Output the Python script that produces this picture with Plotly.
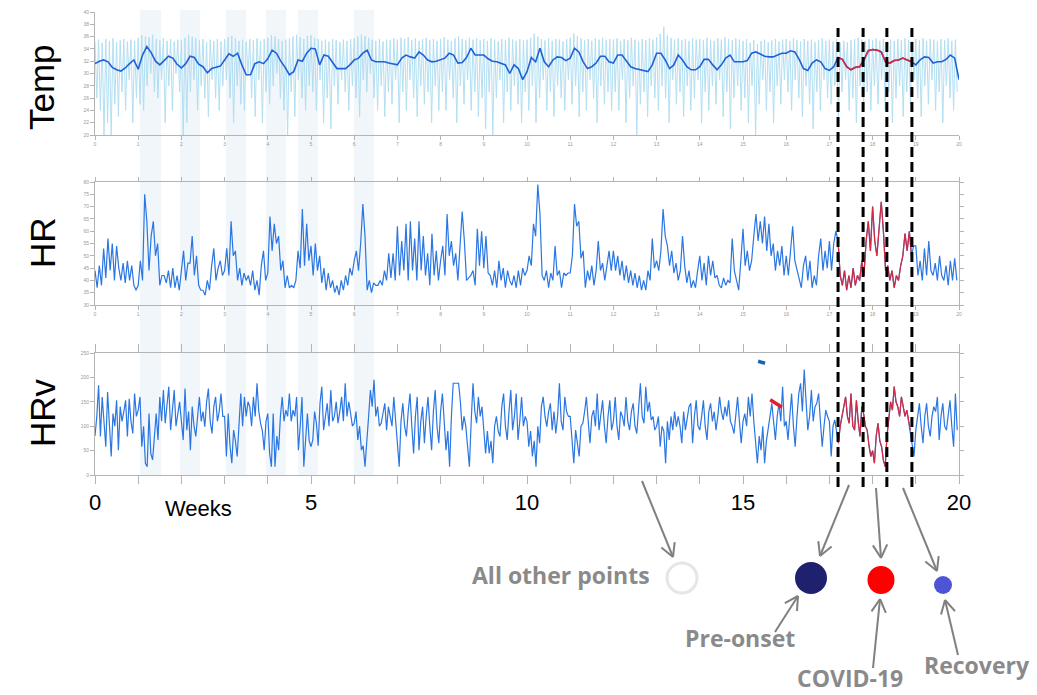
import math
import numpy as np
import plotly.graph_objects as go

# ---------------- data (weeks on x) ----------------
# skin temperature, raw signal: 12 daily-ish peaks and dips per week
temp_raw_high = [
    35.2, 35.5, 35.0, 35.6, 35.3, 35.7, 35.1, 35.4, 35.6, 35.2, 35.5, 35.3,
    35.8, 36.2, 36.0, 35.9, 36.3, 35.6, 35.4, 35.7, 35.3, 35.6, 35.2, 35.5,
    35.4, 35.8, 36.3, 36.0, 35.7, 35.4, 35.6, 35.1, 35.5, 35.3, 35.6, 35.2,
    35.6, 35.9, 36.1, 35.7, 35.3, 35.5, 35.2, 35.6, 35.4, 35.7, 35.3, 35.6,
    35.8, 36.2, 36.0, 35.6, 35.3, 35.5, 35.7, 36.0, 36.3, 35.9, 35.6, 36.1,
    36.2, 35.8, 35.6, 35.3, 35.5, 35.2, 35.6, 35.4, 35.1, 35.5, 35.3, 35.6,
    35.7, 36.0, 36.3, 36.1, 35.8, 35.5, 35.3, 35.6, 35.2, 35.5, 35.4, 35.7,
    35.5, 35.8, 35.6, 35.9, 35.4, 35.7, 35.3, 35.6, 35.8, 35.4, 35.6, 35.3,
    35.6, 35.9, 35.5, 35.3, 35.7, 36.0, 35.6, 35.4, 35.8, 35.5, 35.7, 35.4,
    35.6, 35.3, 35.7, 35.5, 35.2, 35.6, 35.4, 35.8, 35.5, 35.3, 35.6, 35.4,
    35.5, 35.8, 36.5, 36.0, 35.6, 35.4, 35.7, 35.3, 35.6, 35.5, 35.2, 35.6,
    35.8, 36.5, 36.1, 35.7, 35.4, 35.6, 35.3, 35.7, 35.5, 35.8, 35.4, 35.6,
    35.5, 35.7, 35.3, 35.6, 35.4, 35.8, 35.5, 35.2, 35.6, 35.4, 35.7, 35.5,
    35.9, 36.4, 37.6, 36.2, 35.8, 35.5, 35.7, 35.4, 35.6, 35.3, 35.7, 35.5,
    35.6, 35.4, 35.8, 35.5, 35.3, 35.7, 35.5, 35.9, 35.6, 35.4, 35.7, 35.5,
    35.3, 35.6, 35.0, 35.4, 34.8, 35.3, 35.5, 35.1, 35.4, 35.6, 35.2, 35.5,
    35.6, 35.3, 35.7, 35.4, 35.2, 35.6, 35.3, 35.5, 35.1, 35.4, 35.7, 35.3,
    35.5, 35.2, 35.6, 35.0, 35.3, 35.1, 35.4, 35.6, 35.8, 35.5, 35.3, 35.6,
    35.4, 35.7, 35.3, 35.6, 35.2, 35.5, 35.3, 35.6, 35.4, 35.7, 35.5, 35.3,
    35.6, 35.4, 35.7, 35.3, 35.6, 35.5, 35.2, 35.6, 35.4, 35.7, 35.3, 35.5,
]
temp_raw_low = [
    26, 24, 20, 22, 20, 25, 23, 27, 24, 29, 22, 26,
    25, 24, 28, 30, 27, 26, 29, 22, 28, 24, 30, 27,
    20, 22, 27, 29, 24, 28, 26, 23, 29, 26, 24, 28,
    29, 26, 22, 28, 25, 24, 30, 26, 23, 29, 22, 27,
    25, 28, 30, 26, 24, 20, 27, 23, 29, 26, 24, 28,
    27, 24, 29, 22, 26, 21, 28, 25, 29, 27, 24, 28,
    26, 23, 29, 27, 30, 26, 24, 28, 23, 27, 25, 29,
    22, 27, 24, 29, 26, 23, 28, 25, 27, 22, 28, 24,
    27, 24, 29, 26, 22, 28, 25, 29, 24, 27, 23, 26,
    21, 27, 20, 26, 29, 22, 27, 24, 28, 25, 22, 27,
    24, 28, 22, 26, 29, 24, 27, 23, 28, 26, 24, 29,
    25, 28, 23, 27, 24, 29, 26, 22, 28, 25, 27, 24,
    27, 24, 29, 22, 26, 28, 20, 25, 27, 23, 28, 26,
    24, 28, 26, 22, 29, 25, 27, 23, 28, 24, 26, 29,
    22, 27, 24, 28, 25, 29, 23, 27, 21, 26, 28, 24,
    26, 22, 28, 20, 25, 29, 24, 27, 22, 28, 25, 29,
    27, 24, 29, 26, 23, 28, 25, 21, 27, 24, 29, 26,
    25, 28, 23, 27, 29, 24, 26, 22, 28, 25, 27, 24,
    28, 25, 29, 24, 27, 22, 26, 28, 23, 27, 25, 29,
    26, 23, 28, 25, 29, 24, 27, 22, 28, 26, 24, 27,
]

# skin temperature, smoothed (every 0.1 week)
temp_smooth = [
    31.6, 32.0, 32.2, 31.9, 31.0, 30.6, 30.4, 30.9, 31.6, 32.2, 30.7,
    33.0, 34.4, 33.4, 32.0, 31.4, 32.1, 32.8, 32.5, 31.5, 30.9,
    31.6, 32.8, 32.6, 31.5, 31.1, 30.1, 30.8, 31.0, 31.2, 32.2,
    33.2, 32.8, 33.3, 31.4, 29.8, 29.8, 31.6, 31.9, 31.6, 32.4,
    33.8, 33.3, 32.0, 31.0, 29.8, 30.3, 32.2, 32.0, 33.3, 34.1,
    34.0, 31.4, 33.0, 32.8, 31.7, 30.8, 30.8, 30.8, 31.4, 32.2,
    32.5, 33.3, 33.8, 32.2, 31.9, 31.9, 31.9, 31.7, 31.5, 31.4,
    32.5, 33.0, 32.7, 32.5, 33.5, 33.0, 32.2, 31.9, 32.0, 32.2,
    32.5, 33.3, 33.0, 31.7, 31.8, 32.6, 34.1, 33.0, 33.0, 33.0,
    32.4, 32.0, 31.9, 31.6, 31.4, 30.0, 31.4, 30.8, 29.0, 30.3,
    32.6, 31.9, 34.1, 31.9, 31.1, 32.2, 32.7, 32.6, 32.1, 32.5,
    34.1, 33.5, 31.9, 30.8, 31.1, 31.7, 32.8, 32.8, 31.9, 31.7,
    33.0, 33.0, 32.1, 31.1, 30.8, 30.6, 30.5, 30.3, 31.4, 33.3,
    33.3, 32.2, 30.8, 31.4, 33.0, 32.2, 31.1, 30.6, 30.6, 31.1,
    32.3, 32.3, 31.4, 30.6, 31.4, 32.5, 33.0, 31.9, 31.9, 31.9,
    32.1, 33.3, 33.5, 33.2, 32.8, 32.7, 32.7, 33.0, 33.3, 33.3,
    33.7, 33.5, 32.3, 30.8, 30.5, 31.7, 32.2, 31.9, 30.8, 30.5,
    31.1, 32.6, 32.3, 31.1, 30.6, 31.0, 31.1, 32.2, 33.7, 33.9,
    33.8, 33.5, 31.9, 31.7, 32.1, 32.2, 32.5, 32.2, 31.9, 31.4,
    32.2, 32.7, 32.6, 31.7, 31.9, 31.9, 32.3, 33.0, 32.5, 29.0,
]

# heart rate (every 0.05 week)
hr = [
    44, 37, 46, 38, 53, 41, 57, 44, 55, 40, 54, 45, 40, 47, 39, 48, 40, 46, 38, 36,
    38, 48, 40, 75, 64, 44, 58, 64, 50, 55, 38, 42, 42, 39, 44, 37, 45, 37, 42, 36,
    44, 52, 40, 47, 47, 58, 42, 50, 38, 36, 36, 34, 40, 36, 46, 53, 40, 45, 48, 42,
    44, 53, 42, 64, 50, 52, 40, 45, 38, 43, 40, 42, 38, 44, 36, 40, 34, 46, 52, 40,
    43, 66, 52, 63, 55, 58, 44, 48, 37, 42, 37, 38, 37, 40, 52, 45, 69, 46, 63, 48,
    54, 42, 55, 44, 50, 39, 45, 36, 43, 37, 40, 35, 38, 34, 40, 36, 42, 38, 45, 42,
    48, 52, 44, 55, 71, 58, 36, 40, 35, 39, 38, 38, 40, 38, 44, 40, 51, 41, 51, 40,
    62, 42, 56, 44, 63, 40, 64, 44, 57, 40, 64, 44, 58, 42, 51, 38, 59, 42, 52, 40,
    48, 54, 42, 67, 50, 56, 46, 51, 40, 56, 68, 56, 40, 41, 42, 44, 38, 61, 46, 60,
    45, 58, 43, 42, 38, 44, 37, 48, 40, 45, 37, 44, 40, 38, 42, 37, 44, 38, 45, 42,
    44, 50, 46, 63, 58, 79, 67, 42, 40, 44, 37, 43, 40, 54, 42, 44, 37, 43, 42, 43,
    43, 50, 71, 62, 64, 49, 52, 37, 44, 40, 46, 38, 44, 56, 44, 47, 40, 46, 52, 44,
    52, 44, 50, 42, 48, 40, 46, 39, 44, 38, 43, 37, 42, 36, 40, 36, 44, 40, 57, 45,
    48, 44, 52, 69, 58, 54, 46, 52, 43, 47, 40, 44, 58, 46, 39, 44, 37, 40, 37, 44,
    50, 40, 47, 38, 50, 42, 48, 41, 42, 38, 37, 41, 38, 40, 39, 57, 44, 40, 36, 48,
    61, 46, 52, 44, 48, 58, 67, 56, 64, 55, 66, 52, 63, 50, 55, 44, 52, 46, 54, 42,
    50, 42, 52, 62, 48, 44, 40, 37, 46, 50, 40, 48, 37, 42, 38, 50, 57, 44, 52, 45,
    56, 44, 55, 60, 56, 42, 38, 44, 36, 42, 37, 45, 38, 42, 40, 48, 42, 56, 64, 52,
    70, 56, 50, 60, 72, 60, 44, 46, 40, 44, 37, 42, 40, 46, 50, 59, 52, 60, 50, 54,
    54, 42, 48, 40, 53, 42, 56, 44, 42, 47, 40, 50, 42, 40, 46, 38, 48, 40, 49, 40,
]

# heart-rate variability (every 1/24 week)
hrv = [
    80, 120, 184, 79, 160, 100, 58, 170, 90, 38, 126, 100, 153, 51, 140, 110, 130, 153, 79, 156, 110, 85, 167, 120,
    133, 160, 58, 100, 24, 17, 126, 44, 31, 80, 126, 72, 160, 110, 174, 106, 150, 181, 92, 140, 174, 100, 126, 150,
    110, 72, 177, 92, 130, 51, 140, 100, 79, 130, 160, 110, 130, 99, 150, 177, 110, 85, 140, 160, 110, 130, 167, 120,
    120, 38, 126, 60, 24, 92, 70, 38, 110, 167, 100, 160, 120, 150, 140, 100, 160, 120, 188, 130, 106, 90, 51, 110,
    126, 44, 17, 126, 17, 80, 51, 120, 160, 110, 133, 120, 167, 110, 133, 120, 160, 51, 100, 160, 17, 80, 126, 70,
    58, 72, 130, 106, 60, 147, 181, 92, 120, 147, 100, 174, 110, 120, 150, 106, 130, 160, 110, 188, 120, 150, 126, 100,
    106, 130, 72, 100, 51, 60, 17, 79, 120, 174, 140, 195, 120, 140, 100, 106, 130, 147, 92, 140, 120, 100, 160, 110,
    79, 17, 110, 147, 100, 79, 130, 167, 100, 44, 120, 160, 51, 110, 140, 65, 120, 160, 100, 51, 130, 174, 100, 65,
    130, 167, 110, 51, 90, 17, 120, 188, 188, 188, 188, 150, 92, 120, 100, 58, 17, 110, 188, 130, 106, 160, 120, 140,
    100, 44, 90, 44, 70, 24, 100, 120, 90, 79, 140, 167, 100, 72, 130, 174, 92, 120, 167, 72, 110, 160, 100, 120,
    110, 58, 90, 38, 70, 17, 100, 65, 140, 160, 120, 99, 130, 147, 92, 130, 85, 120, 188, 110, 92, 160, 130, 120,
    120, 80, 24, 92, 60, 38, 100, 106, 130, 160, 110, 65, 120, 133, 100, 167, 92, 120, 153, 100, 65, 120, 153, 92,
    110, 160, 100, 72, 130, 120, 100, 160, 110, 92, 130, 147, 100, 85, 150, 188, 120, 106, 181, 130, 150, 113, 120, 92,
    100, 120, 58, 100, 90, 24, 110, 72, 120, 92, 130, 99, 120, 100, 65, 130, 92, 120, 140, 147, 65, 120, 153, 100,
    92, 120, 153, 100, 72, 130, 147, 110, 130, 92, 120, 160, 130, 113, 140, 120, 153, 110, 100, 85, 130, 160, 110, 65,
    110, 126, 100, 160, 120, 167, 110, 58, 24, 80, 51, 100, 24, 70, 92, 120, 147, 100, 72, 120, 147, 110, 181, 100,
    110, 72, 130, 167, 100, 58, 120, 167, 188, 130, 216, 140, 92, 120, 174, 110, 140, 147, 167, 110, 58, 100, 133, 120,
    110, 38, 100, 113, 90, 65, 100, 120, 140, 160, 120, 106, 167, 100, 92, 153, 110, 79, 140, 126, 100, 92, 60, 38,
    50, 24, 80, 106, 70, 58, 30, 17, 80, 120, 150, 133, 181, 150, 140, 120, 160, 140, 120, 133, 110, 92, 70, 38,
    92, 120, 147, 100, 65, 120, 147, 100, 79, 120, 140, 130, 160, 72, 120, 147, 100, 92, 130, 153, 100, 58, 167, 92,
]

# two short marker strokes inside the HRv panel (week, value)
hrv_mark_blue_wk = [15.35, 15.51]
hrv_mark_blue_val = [233, 229]
hrv_mark_red_wk = [15.63, 15.90]
hrv_mark_red_val = [154, 139]

# phase boundaries (weeks): pre-onset | COVID-19 | recovery
phase_weeks = [17.2, 17.78, 18.33, 18.91]
# lightly shaded periods (weeks)
shaded_weeks = [(1.04, 1.53), (1.97, 2.43), (3.03, 3.50), (3.96, 4.42), (4.70, 5.16), (5.99, 6.46)]

# ---------------- time bases ----------------
raw_t = np.arange(2 * len(temp_raw_high)) / 24.0
raw_v = np.empty(2 * len(temp_raw_high))
raw_v[0::2] = temp_raw_high
raw_v[1::2] = temp_raw_low
smooth_t = np.arange(len(temp_smooth)) / 10.0
hr_t = np.arange(len(hr)) / 20.0
hrv_t = np.arange(len(hrv)) / 24.0


def phase_slice(t, v):
    t = np.asarray(t)
    v = np.asarray(v, dtype=float)
    m = (t >= phase_weeks[0] - 1e-9) & (t <= phase_weeks[-1] + 1e-9)
    return t[m], v[m]


W, H = 1037, 695


def px(x):
    return x / W


def py(y):
    return 1 - y / H


BLUE = "#2a76e2"
RED = "#d8283c"
AXC = "#b4b4b4"
tiny = dict(size=5, color="#9a9a9a", family="Liberation Sans")

fig = go.Figure()

# Temp panel
fig.add_trace(go.Scatter(x=raw_t, y=raw_v, mode="lines", xaxis="x", yaxis="y",
                         line=dict(color="#a6daf1", width=1), opacity=0.85))
fig.add_trace(go.Scatter(x=smooth_t, y=temp_smooth, mode="lines", xaxis="x", yaxis="y",
                         line=dict(color="#1f62d8", width=1.6)))
tx, tv = phase_slice(smooth_t, temp_smooth)
fig.add_trace(go.Scatter(x=tx, y=tv, mode="lines", xaxis="x", yaxis="y",
                         line=dict(color=RED, width=1.6)))

# HR panel
fig.add_trace(go.Scatter(x=hr_t, y=hr, mode="lines", xaxis="x2", yaxis="y2",
                         line=dict(color=BLUE, width=1.2)))
tx, tv = phase_slice(hr_t, hr)
fig.add_trace(go.Scatter(x=tx, y=tv, mode="lines", xaxis="x2", yaxis="y2",
                         line=dict(color=RED, width=1.2)))

# HRv panel
fig.add_trace(go.Scatter(x=hrv_t, y=hrv, mode="lines", xaxis="x3", yaxis="y3",
                         line=dict(color=BLUE, width=1.2)))
tx, tv = phase_slice(hrv_t, hrv)
fig.add_trace(go.Scatter(x=tx, y=tv, mode="lines", xaxis="x3", yaxis="y3",
                         line=dict(color=RED, width=1.2)))
fig.add_trace(go.Scatter(x=hrv_mark_blue_wk, y=hrv_mark_blue_val, mode="lines", xaxis="x3", yaxis="y3",
                         line=dict(color="#1763b8", width=3.5)))
fig.add_trace(go.Scatter(x=hrv_mark_red_wk, y=hrv_mark_red_val, mode="lines", xaxis="x3", yaxis="y3",
                         line=dict(color="#e0202c", width=3.5)))

week_ticks = list(range(21))
xdom = [px(95), px(959)]


def xaxis_common(anchor, mirror=False, **kw):
    d = dict(domain=xdom, range=[0, 20], anchor=anchor, tickmode="array", tickvals=week_ticks,
             ticks="outside", ticklen=4, tickcolor=AXC, showline=True, linecolor=AXC, linewidth=1,
             showgrid=False, zeroline=False, tickfont=tiny, mirror=mirror, automargin=False)
    d.update(kw)
    return d


def yaxis_common(anchor, dom, rng, dtick, mirror=False):
    return dict(domain=dom, range=rng, anchor=anchor, dtick=dtick, ticks="outside", ticklen=4,
                tickcolor=AXC, showline=True, linecolor=AXC, linewidth=1, showgrid=False,
                zeroline=False, tickfont=tiny, mirror=mirror, automargin=False)


big_text = [str(w) if w % 5 == 0 else "" for w in week_ticks]

shapes = []
for a, b in shaded_weeks:
    shapes.append(dict(type="rect", xref="x", yref="paper", x0=a, x1=b, y0=py(475), y1=py(10),
                       fillcolor="rgba(205,222,242,0.28)", line=dict(width=0), layer="below"))
for w in phase_weeks:
    shapes.append(dict(type="line", xref="x", yref="paper", x0=w, x1=w, y0=py(487), y1=py(28),
                       line=dict(color="black", width=3, dash="10px,5px"), layer="above"))

# arrows (pixel space): start -> tip, drawn with an open V head
ARC = "#808080"


def arrow(x0, y0, x1, y1, head=15, spread=0.5):
    shapes.append(dict(type="line", xref="paper", yref="paper", x0=px(x0), y0=py(y0),
                       x1=px(x1), y1=py(y1), line=dict(color=ARC, width=2)))
    ang = math.atan2(y1 - y0, x1 - x0)
    for s in (1, -1):
        a = ang + math.pi + s * spread
        hx, hy = x1 + head * math.cos(a), y1 + head * math.sin(a)
        shapes.append(dict(type="line", xref="paper", yref="paper", x0=px(x1), y0=py(y1),
                           x1=px(hx), y1=py(hy), line=dict(color=ARC, width=2)))


arrow(642, 481, 673, 557)
arrow(849, 485, 820, 556)
arrow(876, 488, 881, 558)
arrow(903, 488, 937, 571)
arrow(775, 632, 798, 596)
arrow(873, 668, 880, 599)
arrow(958, 655, 945, 600)


def circle(cx, cy, rx, ry, fill, line_color=None, lw=0):
    shapes.append(dict(type="circle", xref="paper", yref="paper",
                       x0=px(cx - rx), x1=px(cx + rx), y0=py(cy + ry), y1=py(cy - ry),
                       fillcolor=fill, line=dict(color=line_color or fill, width=lw)))


circle(682, 578, 15, 15, "rgba(0,0,0,0)", "#e6e6e6", 3)
circle(811, 578, 16, 16, "#1f216e")
circle(881, 580, 13.5, 14, "#ff0000")
circle(943, 585, 9, 9, "#4b55d6")

annotations = []
for txt, cy in (("Temp", 87), ("HR", 243), ("HRv", 413)):
    annotations.append(dict(text=txt, x=px(42), y=py(cy), xref="paper", yref="paper",
                            textangle=-90, showarrow=False, xanchor="center", yanchor="middle",
                            font=dict(size=35, color="black", family="Liberation Sans")))
annotations.append(dict(text="Weeks", x=px(198), y=py(508), xref="paper", yref="paper",
                        showarrow=False, xanchor="center", yanchor="middle",
                        font=dict(size=22, color="black", family="Liberation Sans")))
lab_font = dict(size=23, color="#8a8a8a", family="Open Sans", weight="bold")
for txt, cx, cy in (("All other points", 561, 575), ("Pre-onset", 740, 638),
                    ("COVID-19", 850, 678), ("Recovery", 977, 665)):
    annotations.append(dict(text=txt, x=px(cx), y=py(cy), xref="paper", yref="paper",
                            showarrow=False, xanchor="center", yanchor="middle", font=lab_font))

fig.update_layout(
    width=W, height=H, margin=dict(l=0, r=0, t=0, b=0, pad=0, autoexpand=False),
    paper_bgcolor="white", plot_bgcolor="white", showlegend=False,
    xaxis=xaxis_common("y"),
    yaxis=yaxis_common("x", [py(135), py(12)], [20, 40], 2),
    xaxis2=xaxis_common("y2", mirror="ticks"),
    yaxis2=yaxis_common("x2", [py(305), py(182)], [30, 80], 5, mirror="ticks"),
    xaxis3=xaxis_common("y3", mirror="ticks", ticklen=8, ticktext=big_text,
                        tickfont=dict(size=22, color="black", family="Liberation Sans")),
    yaxis3=yaxis_common("x3", [py(475), py(353)], [0, 250], 50, mirror="ticks"),
    shapes=shapes, annotations=annotations,
)

fig.write_html("out.html", config={"displayModeBar": False})
